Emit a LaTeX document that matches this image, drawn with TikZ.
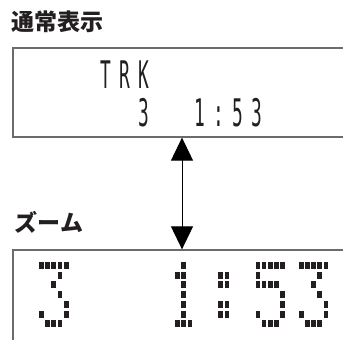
\documentclass[tikz,border=0pt]{standalone}
\usepackage{fontspec}
\usepackage{graphicx}
\usetikzlibrary{arrows.meta}
\newfontfamily\cjk{Noto Sans CJK JP}
\newfontfamily\lcdfont{DejaVu Sans Mono}
\newlength{\du}
\setlength{\du}{1pt}
\definecolor{inkcolor}{rgb}{0.137,0.122,0.125}
\definecolor{framecolor}{rgb}{0.420,0.420,0.420}
\tikzset{
  heading/.style={anchor=base west,inner sep=0pt,outer sep=0pt,color=inkcolor,font=\cjk\bfseries\fontsize{23}{23}\selectfont},
  lcdframe/.style={draw=framecolor,line width=1.3\du,inner sep=0pt,minimum width=350\du},
  lcdtext/.style={anchor=base west,inner sep=0pt,outer sep=0pt,color=inkcolor,font=\lcdfont\fontsize{38}{38}\selectfont},
  lcddot/.style={fill=inkcolor},
  zoomarrow/.style={line width=1\du,color=black,arrows={Triangle[width=22pt,length=23pt]-Triangle[width=22pt,length=23pt]}}
}
% one character cell of the small display
\newcommand{\lcdcell}[1]{\makebox[18.9\du]{\scalebox{0.47}[1]{#1}}}
\let\lcdstop\relax
\def\lcdrow#1{\lcdnext#1\lcdstop}
\def\lcdnext#1{\ifx#1\lcdstop\else\lcdcell{#1}\expandafter\lcdnext\fi}
% 5x7 dot patterns, col/row
\def\glyphthree{1/1,2/1,3/1,4/1,5/1,4/2,3/3,4/4,5/5,1/6,5/6,2/7,3/7,4/7}
\def\glyphone{3/1,2/2,3/2,3/3,3/4,3/5,3/6,2/7,3/7,4/7}
\def\glyphcolon{2/2,3/2,2/3,3/3,2/5,3/5,2/6,3/6}
\def\glyphfive{1/1,2/1,3/1,4/1,5/1,1/2,1/3,2/3,3/3,4/3,5/4,5/5,1/6,5/6,2/7,3/7,4/7}
\newcommand{\lcdglyph}[2]{%
  \foreach \c/\r in #2{%
    \pgfmathsetmacro\dotx{#1+(\c-1)*6.2}%
    \pgfmathsetmacro\doty{262+(\r-1)*9.7}%
    \fill[lcddot] (\dotx\du,\doty\du) rectangle ++(4.7\du,7\du);
  }%
}

\begin{document}
\begin{tikzpicture}
\pgftransformyscale{-1.000000}
\useasboundingbox (0\du,0\du) rectangle (343\du,340\du);
% headings
\node[heading] (normalhead) at (12\du,30.5\du){通常表示};
\node[heading] (zoomhead) at (15\du,231.5\du){ズーム};
% display frames
\node[lcdframe,minimum height=89\du] (normal) at (188\du,92.5\du){};
\node[lcdframe,minimum height=100\du] (zoom) at (188\du,300\du){};
% small display
\node[lcdtext] (trk) at (96.3\du,88\du){\lcdrow{TRK}};
\node[lcdtext] (tracknum) at (134\du,126\du){\lcdrow{3}};
\node[lcdtext] (playtime) at (190.8\du,126\du){\lcdrow{1:53}};
% arrow
\coordinate (axis) at (182\du,0\du);
\draw[zoomarrow] (normal.south -| axis) -- (zoom.north -| axis);
% zoomed display
\lcdglyph{39}{\glyphthree}
\lcdglyph{168.9}{\glyphone}
\lcdglyph{212.2}{\glyphcolon}
\lcdglyph{255.5}{\glyphfive}
\lcdglyph{298.8}{\glyphthree}
\end{tikzpicture}
\end{document}
